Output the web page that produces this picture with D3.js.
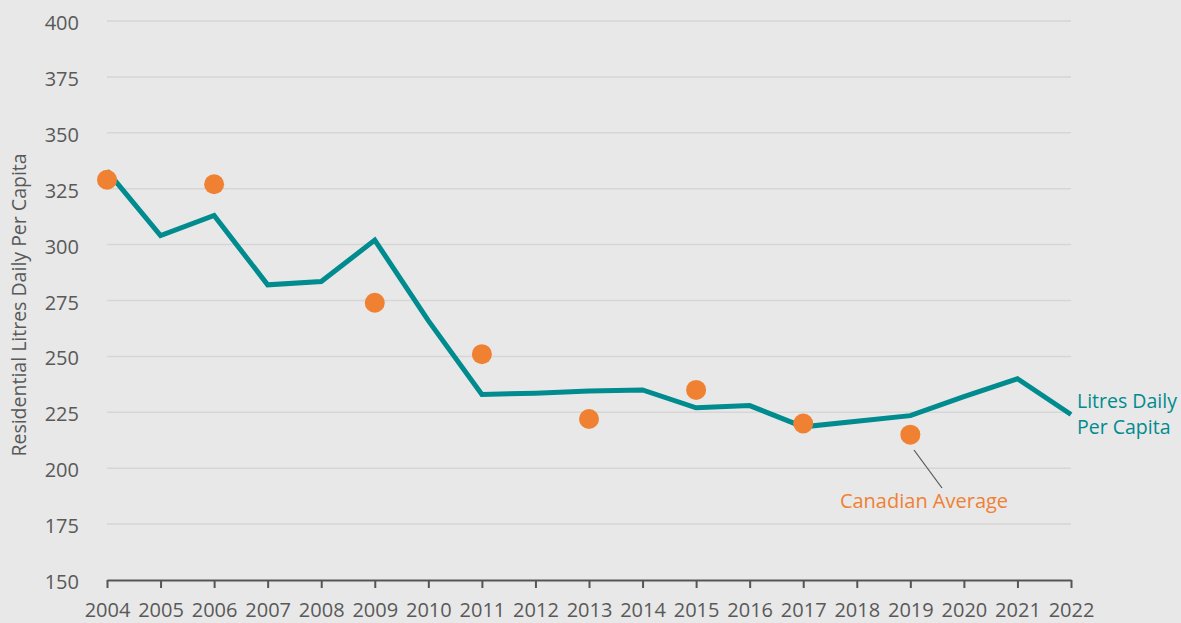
<!DOCTYPE html>
<html>
<head>
<meta charset="utf-8">
<script src="https://cdn.jsdelivr.net/npm/d3@7"></script>
<style>
  body { margin: 0; background: #e8e8e8; }
  svg { display: block; font-family: "Open Sans", sans-serif; }
</style>
</head>
<body>
<svg id="chart"></svg>
<script>
// data
var years = [2004,2005,2006,2007,2008,2009,2010,2011,2012,2013,2014,2015,2016,2017,2018,2019,2020,2021,2022];
var litres = [333,304,313,282,283.5,302,266,233,233.5,234.5,235,227,228,218.5,221,223.5,232,240,224];
var avgYears = [2004,2006,2009,2011,2013,2015,2017,2019];
var avgValues = [329,327,274,251,222,235,220,215];
var yTicks = [150,175,200,225,250,275,300,325,350,375,400];

var width = 1181, height = 623;
var teal = "#008b8f", orange = "#f08133", textCol = "#595959";

var svg = d3.select("#chart").attr("width", width).attr("height", height);

var x = d3.scaleLinear().domain([2004, 2022]).range([107, 1071]);
var y = d3.scaleLinear().domain([150, 400]).range([580, 21]);

// gridlines
svg.append("g")
  .selectAll("line")
  .data(yTicks.slice(1))
  .enter().append("line")
    .attr("x1", x(2004)).attr("x2", x(2022))
    .attr("y1", d=>y(d)).attr("y2", d=>y(d))
    .attr("stroke", "#d6d6d6").attr("stroke-width", 1.5);

// y labels
svg.append("g")
  .selectAll("text")
  .data(yTicks)
  .enter().append("text")
    .attr("x", 79).attr("y", d=>y(d) + 9)
    .attr("text-anchor", "end")
    .attr("font-size", 20).attr("fill", textCol)
    .text(d=>d);

// x axis
var xAxis = d3.axisBottom(x).tickValues(years).tickFormat(d3.format("d")).tickSize(8).tickSizeOuter(0).tickPadding(15);
var gx = svg.append("g").attr("transform", "translate(0," + y(150) + ")").call(xAxis);
gx.select(".domain").attr("stroke", "#555").attr("stroke-width", 2);
gx.selectAll(".tick line").attr("stroke", "#555").attr("stroke-width", 2);
gx.selectAll(".tick text").attr("font-size", 20).attr("fill", textCol).attr("font-family", "Open Sans, sans-serif");

// y title
svg.append("text")
  .attr("transform", "translate(26," + 305 + ")rotate(-90)")
  .attr("text-anchor", "middle")
  .attr("font-size", 19.5).attr("fill", textCol)
  .text("Residential Litres Daily Per Capita");

// line
var line = d3.line().x((d,i)=>x(years[i])).y(d=>y(d));
svg.append("path")
  .datum(litres)
  .attr("d", line)
  .attr("fill", "none")
  .attr("stroke", teal).attr("stroke-width", 5)
  .attr("stroke-linejoin", "miter");

// dots
svg.append("g")
  .selectAll("circle")
  .data(avgValues)
  .enter().append("circle")
    .attr("cx", (d,i)=>x(avgYears[i]))
    .attr("cy", d=>y(d))
    .attr("r", 10)
    .attr("fill", orange);

// labels
var lbl = svg.append("text").attr("fill", teal).attr("font-size", 19.5);
lbl.append("tspan").attr("x", 1077).attr("y", 408).text("Litres Daily");
lbl.append("tspan").attr("x", 1077).attr("y", 434).text("Per Capita");

svg.append("line")
  .attr("x1", 914).attr("y1", 450).attr("x2", 942).attr("y2", 488)
  .attr("stroke", "#555").attr("stroke-width", 1.2);
svg.append("text")
  .attr("x", 924).attr("y", 508)
  .attr("text-anchor", "middle")
  .attr("fill", orange).attr("font-size", 20)
  .text("Canadian Average");
</script>
</body>
</html>
